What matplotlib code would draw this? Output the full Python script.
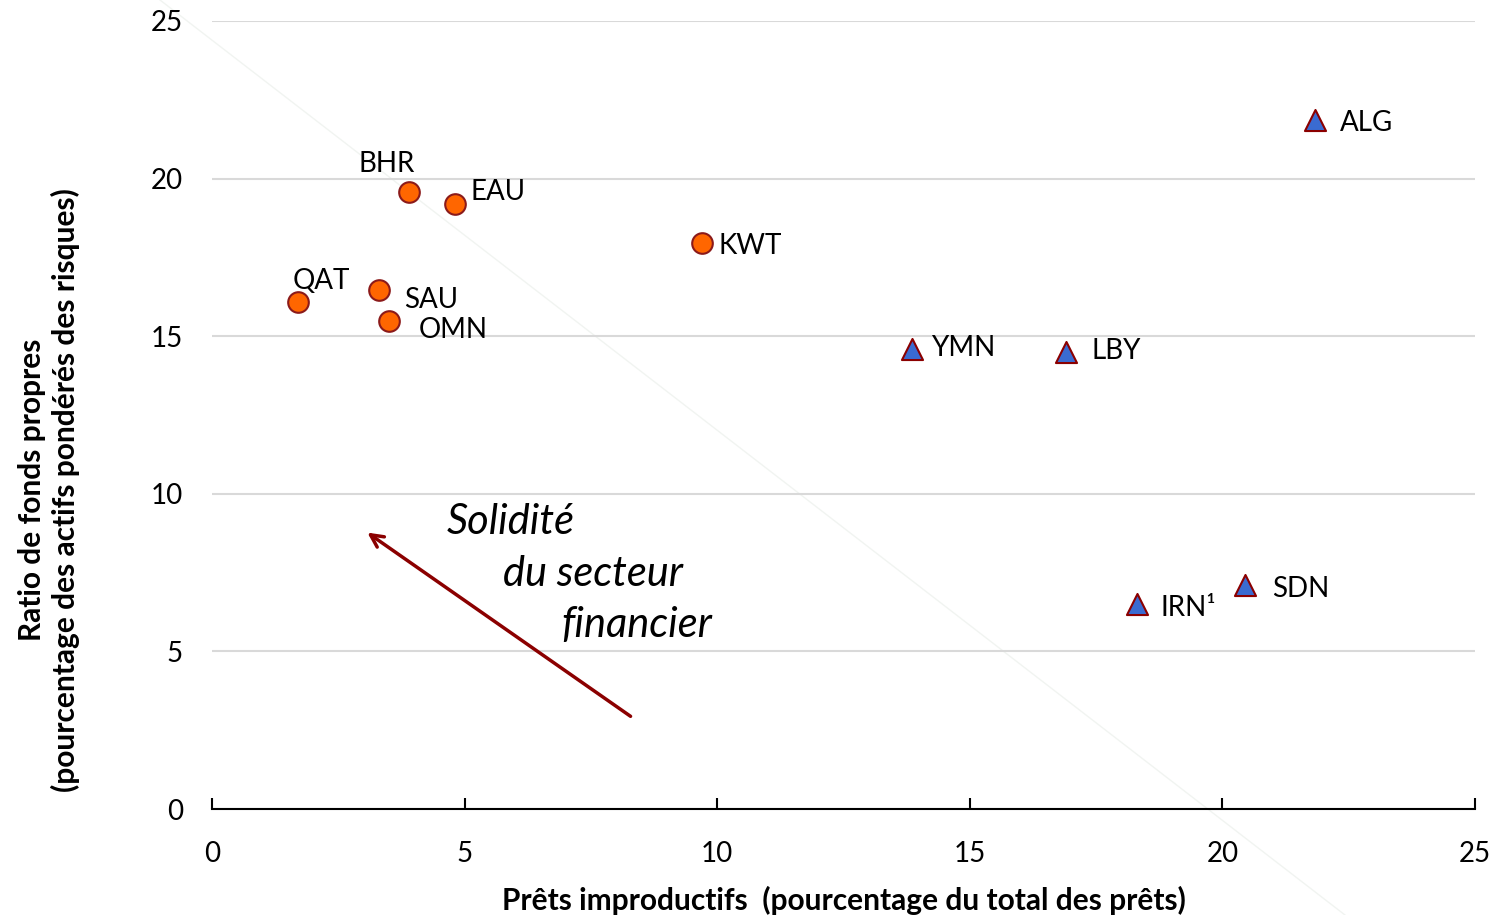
import numpy as np
import matplotlib.pyplot as plt
from matplotlib.lines import Line2D

plt.rcParams['font.family'] = ['Lato', 'DejaVu Sans']

# Pays exportateurs de pétrole du CCG (cercles)
gcc_names = ["QAT", "SAU", "OMN", "BHR", "EAU", "KWT"]
gcc_npl = [1.70, 3.31, 3.50, 3.90, 4.81, 9.70]
gcc_car = [16.08, 16.47, 15.48, 19.57, 19.19, 17.96]

# Autres pays (triangles)
oth_names = ["YMN", "LBY", "IRN¹", "SDN", "ALG"]
oth_npl = [13.86, 16.90, 18.31, 20.45, 21.83]
oth_car = [14.60, 14.50, 6.50, 7.10, 21.85]

# label offsets in pixels (dx, dy, ha)
gcc_offsets = [(23, 21, 'center'), (25, -10, 'left'), (30, -9, 'left'),
               (-22, 28, 'center'), (15, 12, 'left'), (16, -3, 'left')]
oth_offsets = [(19, 1, 'left'), (26, 1, 'left'), (23, -4, 'left'),
               (27, -4, 'left'), (25, -3, 'left')]

ticks = [0, 5, 10, 15, 20, 25]

fig = plt.figure(figsize=(14.99, 9.15), dpi=100)
ax = fig.add_axes([212/1499, 1-809/915, (1475-212)/1499, (809-21)/915])
ax.patch.set_visible(False)

# faint diagonal line in the background
fig.add_artist(Line2D([160/1499, 1345/1499], [1.0, 0.0], color='#f1f4f1', lw=1, zorder=-1))

ax.set_xlim(0, 25)
ax.set_ylim(0, 25)
ax.set_xticks(ticks)
ax.set_yticks(ticks)
ax.yaxis.grid(True, color='#d9d9d9', lw=1.5)
ax.set_axisbelow(True)
for s in ['left', 'right', 'top']:
    ax.spines[s].set_visible(False)
ax.spines['bottom'].set_linewidth(1.5)
ax.tick_params(axis='x', direction='in', length=8, width=1.5, labelsize=20, pad=23)
ax.tick_params(axis='y', length=0, labelsize=20, pad=21)

ax.scatter(gcc_npl, gcc_car, s=220, marker='o', color='#ff6600',
           edgecolors='#8b1a1a', linewidths=1.5, zorder=3)
ax.scatter(oth_npl, oth_car, s=230, marker='^', color='#3a6bd1',
           edgecolors='#8b0000', linewidths=1.5, zorder=3)

for name, x, y, (dx, dy, ha) in zip(gcc_names, gcc_npl, gcc_car, gcc_offsets):
    ax.annotate(name, (x, y), xytext=(dx, dy), textcoords='offset pixels',
                ha=ha, va='center', fontsize=20)
for name, x, y, (dx, dy, ha) in zip(oth_names, oth_npl, oth_car, oth_offsets):
    ax.annotate(name, (x, y), xytext=(dx, dy), textcoords='offset pixels',
                ha=ha, va='center', fontsize=20)

# arrow
ax.annotate('', xy=(3.03, 8.82), xytext=(8.33, 2.89),
            arrowprops=dict(arrowstyle='->,head_length=0.9,head_width=0.45',
                            color='#8b0000', lw=2.5))
ax.text(4.65, 9.10, "Solidité", style='italic', fontsize=30, ha='left', va='center')
ax.text(5.76, 7.45, "du secteur", style='italic', fontsize=30, ha='left', va='center')
ax.text(6.91, 5.83, "financier", style='italic', fontsize=30, ha='left', va='center')

ax.set_xlabel("Prêts improductifs  (pourcentage du total des prêts)",
              fontsize=21.5, fontweight='bold', labelpad=14)
fig.text(49/1499, 1-490/915,
         "Ratio de fonds propres\n(pourcentage des actifs pondérés des risques)",
         rotation=90, ha='center', va='center', fontsize=21.5,
         fontweight='bold', linespacing=1.2)

fig.savefig("out.png", dpi=100)
